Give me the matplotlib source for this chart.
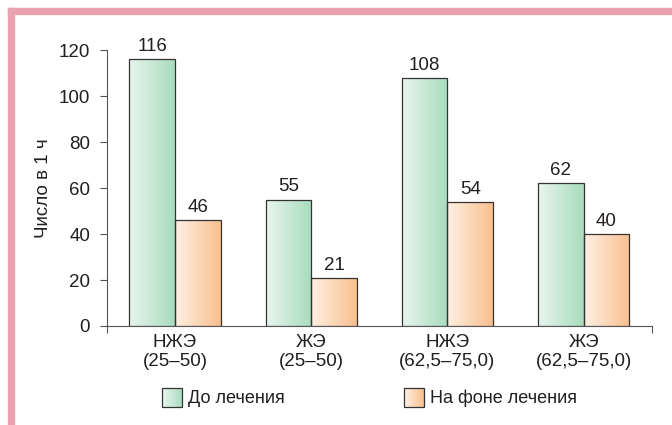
import numpy as np
import matplotlib.pyplot as plt
from matplotlib.colors import to_rgb
from matplotlib.patches import Rectangle
from matplotlib.legend_handler import HandlerBase

plt.rcParams['font.family'] = ['Liberation Sans', 'DejaVu Sans']

categories = ["НЖЭ\n(25–50)", "ЖЭ\n(25–50)", "НЖЭ\n(62,5–75,0)", "ЖЭ\n(62,5–75,0)"]
before = [116, 55, 108, 62]
during = [46, 21, 54, 40]
series_names = ["До лечения", "На фоне лечения"]
y_ticks = [0, 20, 40, 60, 80, 100, 120]

GREEN = ("#e8f5ee", "#a9dcbd")
ORANGE = ("#fff0e4", "#f8c08e")
BORDER = "#e9a3b0"
TEXT = "#231f20"
EDGE = "#333333"
FS = 13.5


def gradient_fill(ax, patch, colors):
    # горизонтальный градиент внутри столбика: светлый слева, насыщенный справа
    x0, y0 = patch.get_x(), patch.get_y()
    w, h = patch.get_width(), patch.get_height()
    c0, c1 = np.array(to_rgb(colors[0])), np.array(to_rgb(colors[1]))
    t = np.linspace(0, 1, 64)[None, :, None]
    img = c0 + (c1 - c0) * t
    im = ax.imshow(img, extent=(x0, x0 + w, y0, y0 + h), aspect='auto',
                   zorder=patch.get_zorder() - 0.1, interpolation='bilinear')
    im.set_clip_path(patch)


class GradientHandler(HandlerBase):
    # квадратик легенды с тем же градиентом
    def __init__(self, colors):
        super().__init__()
        self.colors = colors

    def create_artists(self, legend, orig_handle, xdescent, ydescent,
                       width, height, fontsize, trans):
        c0, c1 = np.array(to_rgb(self.colors[0])), np.array(to_rgb(self.colors[1]))
        n = 24
        arts = []
        for i in range(n):
            c = c0 + (c1 - c0) * i / (n - 1)
            arts.append(Rectangle((-xdescent + width * i / n, -ydescent), width / n * 1.1,
                                  height, facecolor=c, edgecolor='none', transform=trans))
        arts.append(Rectangle((-xdescent, -ydescent), width, height, facecolor='none',
                              edgecolor=EDGE, linewidth=0.9, transform=trans))
        return arts


def main():
    fig = plt.figure(figsize=(6.72, 4.25), dpi=100)
    ax = fig.add_axes([0.159, 0.233, 0.811, 0.649])

    x = np.arange(len(categories))
    width = 0.335

    bars1 = ax.bar(x - width / 2, before, width, facecolor='none',
                   edgecolor=EDGE, linewidth=0.9, zorder=3)
    bars2 = ax.bar(x + width / 2, during, width, facecolor='none',
                   edgecolor=EDGE, linewidth=0.9, zorder=3)

    for b in bars1:
        gradient_fill(ax, b, GREEN)
    for b in bars2:
        gradient_fill(ax, b, ORANGE)

    for bars, vals in ((bars1, before), (bars2, during)):
        for b, v in zip(bars, vals):
            ax.annotate(str(v), (b.get_x() + b.get_width() / 2, v),
                        xytext=(0, 3), textcoords='offset points',
                        ha='center', va='bottom', fontsize=FS, color=TEXT)

    ax.set_xlim(-0.5, 3.5)
    ax.set_ylim(0, 120)
    ax.set_yticks(y_ticks)
    ax.set_xticks([-0.5, 3.5])
    ax.set_xticklabels(["", ""])
    ax.set_xticks(x, minor=True)
    ax.set_xticklabels(categories, minor=True, linespacing=1.1)
    ax.tick_params(axis='x', which='minor', length=0, pad=6, labelsize=FS,
                   labelcolor=TEXT)
    ax.tick_params(axis='x', which='major', length=5, width=0.8, color='#555555')
    ax.tick_params(axis='y', length=5, width=0.8, color='#555555', labelsize=FS,
                   labelcolor=TEXT, pad=7)

    for s in ('top', 'right'):
        ax.spines[s].set_visible(False)
    for s in ('left', 'bottom'):
        ax.spines[s].set_color('#555555')
        ax.spines[s].set_linewidth(0.8)

    ax.set_ylabel("Число в 1 ч", fontsize=FS, color=TEXT)
    ax.yaxis.set_label_coords(-0.1, 0.5)

    # легенда
    handles = [Rectangle((0, 0), 1, 1), Rectangle((0, 0), 1, 1)]
    fig.legend(handles, series_names, loc='center', bbox_to_anchor=(0.55, 0.064),
               ncol=2, frameon=False, fontsize=13, handlelength=1.1, handleheight=1.2,
               handletextpad=0.33, columnspacing=6.6, labelcolor=TEXT,
               handler_map={handles[0]: GradientHandler(GREEN),
                            handles[1]: GradientHandler(ORANGE)})

    # розовая рамка
    fig.patches.append(Rectangle((8 / 672, 1 - 14 / 425), 1, 6 / 425,
                                 transform=fig.transFigure, color=BORDER, zorder=0))
    fig.patches.append(Rectangle((8 / 672, 0), 6 / 672, 1 - 8 / 425,
                                 transform=fig.transFigure, color=BORDER, zorder=0))

    fig.savefig("out.png", dpi=100)


if __name__ == '__main__':
    main()
